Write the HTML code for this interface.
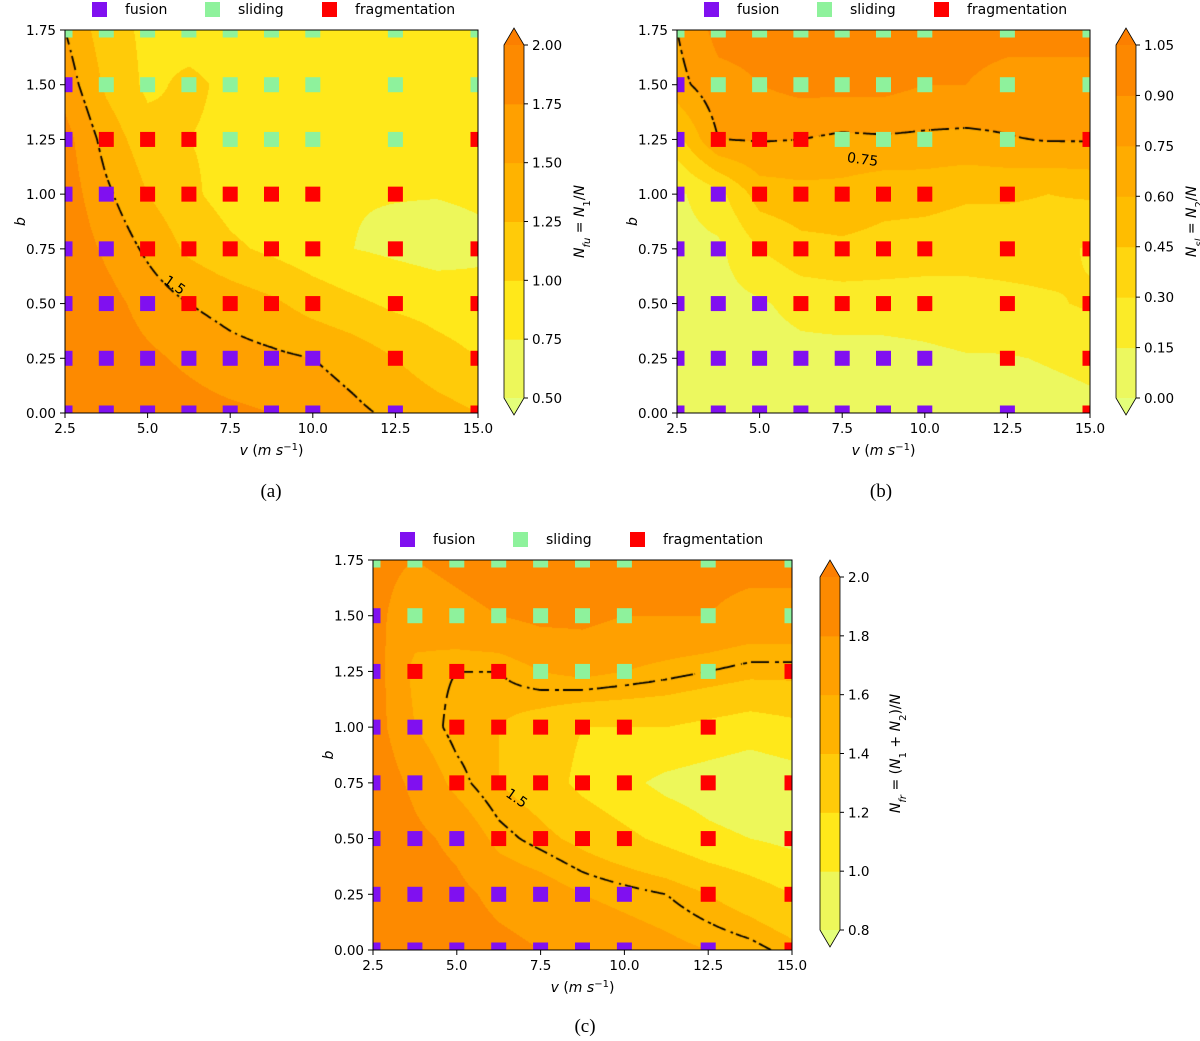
<!DOCTYPE html>
<html><head><meta charset="utf-8">
<style>
body{margin:0;background:#fff;width:1200px;height:1041px;position:relative;overflow:hidden;font-family:"DejaVu Sans","Liberation Sans",sans-serif;}
canvas{position:absolute;}
svg{position:absolute;left:0;top:0;}
</style></head>
<body>
<canvas id="cva"></canvas>
<canvas id="cvb"></canvas>
<canvas id="cvc"></canvas>
<svg id="svg" width="1200" height="1041"></svg>
<script>
// ---- data ----
const vGrid=[2.5,3.75,5,6.25,7.5,8.75,10,11.25,12.5,13.75,15];
const bGrid=[0,0.25,0.5,0.75,1.0,1.25,1.5,1.75];
// rows by b ascending (0 .. 1.75)
const fuValues=[
 [2.0,1.95,1.9,1.85,1.8,1.75,1.65,1.55,1.45,1.35,1.25],
 [2.0,1.9,1.8,1.7,1.6,1.55,1.5,1.4,1.25,1.1,1.0],
 [2.0,1.85,1.65,1.5,1.4,1.3,1.15,1.05,0.95,0.9,0.85],
 [1.95,1.7,1.45,1.2,1.05,0.95,0.85,0.75,0.7,0.65,0.7],
 [1.9,1.55,1.25,1.05,0.9,0.8,0.78,0.76,0.76,0.76,0.78],
 [1.85,1.4,1.1,1.0,0.95,0.9,0.85,0.85,0.8,0.8,0.8],
 [1.65,1.2,0.95,1.05,0.95,0.9,0.9,0.9,0.9,0.9,0.9],
 [1.5,1.1,0.95,0.9,0.9,0.9,0.9,0.9,0.9,0.9,0.9]];
const slValues=[
 [0.05,0.05,0.08,0.08,0.08,0.08,0.08,0.08,0.08,0.1,0.12],
 [0.05,0.05,0.08,0.1,0.1,0.1,0.12,0.14,0.14,0.16,0.18],
 [0.05,0.1,0.13,0.2,0.22,0.22,0.22,0.24,0.26,0.28,0.32],
 [0.1,0.12,0.3,0.4,0.42,0.4,0.38,0.36,0.36,0.36,0.28],
 [0.12,0.25,0.52,0.55,0.55,0.5,0.5,0.47,0.47,0.45,0.47],
 [0.4,0.75,0.76,0.75,0.72,0.73,0.72,0.71,0.74,0.76,0.76],
 [0.7,0.85,0.9,0.95,0.95,0.95,0.9,0.9,0.85,0.85,0.85],
 [0.75,0.95,0.95,1.0,1.0,0.95,0.95,0.95,0.95,0.95,0.95]];
const frValues=[
 [2.0,1.95,1.9,1.85,1.8,1.75,1.7,1.65,1.6,1.55,1.45],
 [2.0,1.9,1.85,1.75,1.7,1.6,1.55,1.5,1.4,1.3,1.2],
 [2.0,1.85,1.75,1.55,1.45,1.35,1.25,1.15,1.05,1.0,0.95],
 [1.95,1.75,1.55,1.4,1.3,1.15,1.05,0.95,0.9,0.85,0.9],
 [1.9,1.6,1.45,1.4,1.3,1.2,1.2,1.2,1.15,1.1,1.15],
 [1.9,1.55,1.5,1.5,1.6,1.65,1.6,1.55,1.5,1.45,1.45],
 [1.85,1.7,1.75,1.8,1.85,1.85,1.8,1.8,1.8,1.75,1.75],
 [1.85,1.8,1.85,1.9,1.9,1.9,1.9,1.85,1.85,1.85,1.85]];
const fuLevels=[0.5,0.75,1.0,1.25,1.5,1.75,2.0];
const slLevels=[0,0.15,0.3,0.45,0.6,0.75,0.9,1.05];
const frLevels=[0.8,1.0,1.2,1.4,1.6,1.8,2.0];
const fuTickLabels=["0.50","0.75","1.00","1.25","1.50","1.75","2.00"];
const slTickLabels=["0.00","0.15","0.30","0.45","0.60","0.75","0.90","1.05"];
const frTickLabels=["0.8","1.0","1.2","1.4","1.6","1.8","2.0"];
const markerV=[2.5,3.75,5,6.25,7.5,8.75,10,12.5,15];
const markerB=[0,0.25,0.5,0.75,1.0,1.25,1.5,1.75];
const markerTypes=[
 "FFFFFFFFR",
 "FFFFFFFRR",
 "FFFRRRRRR",
 "FFRRRRRRR",
 "FFRRRRRR-",
 "FRRRSSSSR",
 "FSSSSSSSS",
 "SSSSSSSSS"];
const xTicks=[2.5,5.0,7.5,10.0,12.5,15.0];
const xTickLabels=["2.5","5.0","7.5","10.0","12.5","15.0"];
const yTicks=[0,0.25,0.5,0.75,1.0,1.25,1.5,1.75];
const yTickLabels=["0.00","0.25","0.50","0.75","1.00","1.25","1.50","1.75"];

const NS="http://www.w3.org/2000/svg";
const svg=document.getElementById('svg');
function el(tag,attrs,parent){const e=document.createElementNS(NS,tag);for(const k in attrs)e.setAttribute(k,attrs[k]);(parent||svg).appendChild(e);return e;}
const stops=[[0,[228,255,122]],[0.25,[255,232,26]],[0.5,[255,189,0]],[0.75,[255,160,0]],[1,[252,127,0]]];
function cmap(t){t=Math.max(0,Math.min(1,t));for(let i=0;i<stops.length-1;i++){const a=stops[i],b=stops[i+1];if(t<=b[0]){const f=(t-a[0])/(b[0]-a[0]);return a[1].map((c,k)=>Math.round(c+(b[1][k]-c)*f));}}return stops[4][1];}
function rgb(c){return 'rgb('+c.join(',')+')';}
function interp(vals,v,b){
  let i=0;while(i<vGrid.length-2&&v>vGrid[i+1])i++;
  let j=0;while(j<bGrid.length-2&&b>bGrid[j+1])j++;
  const fx=Math.max(0,Math.min(1,(v-vGrid[i])/(vGrid[i+1]-vGrid[i])));
  const fy=Math.max(0,Math.min(1,(b-bGrid[j])/(bGrid[j+1]-bGrid[j])));
  const a=vals[j][i],bb=vals[j][i+1],c=vals[j+1][i],d=vals[j+1][i+1];
  return a*(1-fx)*(1-fy)+bb*fx*(1-fy)+c*(1-fx)*fy+d*fx*fy;
}
const MCOL={F:'#8010f0',S:'#8ef29c',R:'#ff0000'};

function panel(p){
  const {x0,y0,w,h,vals,levels,tickLabels,cvId,cb,lineLevel,lineLabel,labelPos,cbLabel,key}=p;
  const X=v=>x0+(v-2.5)/12.5*w, Y=b=>y0+h-b/1.75*h;
  const n=levels.length-1;
  const cols=[];for(let i=0;i<n;i++)cols.push(cmap((i+0.5)/n));
  const cv=document.getElementById(cvId);cv.width=w;cv.height=h;cv.style.left=x0+'px';cv.style.top=y0+'px';
  const ctx=cv.getContext('2d');const img=ctx.createImageData(w,h);
  const s=2;
  for(let py=0;py<h;py++){for(let px=0;px<w;px++){
    const v=2.5+(px+0.5)/w*12.5,b=1.75-(py+0.5)/h*1.75;const val=interp(vals,v,b);
    let k=Math.floor((val-levels[0])/(levels[1]-levels[0]));k=Math.max(0,Math.min(n-1,k));
    const c=cols[k],o=(py*w+px)*4;img.data[o]=c[0];img.data[o+1]=c[1];img.data[o+2]=c[2];img.data[o+3]=255;}}
  ctx.putImageData(img,0,0);
  // contour line (marching squares), dash-dot via position-based pattern
  ctx.strokeStyle='#000';ctx.lineWidth=1.8;ctx.beginPath();
  const f=(px,py)=>interp(vals,2.5+px/w*12.5,1.75-py/h*1.75)-lineLevel;
  for(let py=0;py<h;py+=s)for(let px=0;px<w;px+=s){
    const c=[[px,py],[px+s,py],[px+s,py+s],[px,py+s]];const vv=c.map(q=>f(q[0],q[1]));const pts=[];
    for(let e=0;e<4;e++){const a=vv[e],bv=vv[(e+1)%4];if((a<0)!==(bv<0)){const t=a/(a-bv);pts.push([c[e][0]+(c[(e+1)%4][0]-c[e][0])*t,c[e][1]+(c[(e+1)%4][1]-c[e][1])*t]);}}
    const ph=((px+py)/2)%16; const on=ph<9||(ph>=12&&ph<13.5);
    if(!on)continue;
    if(pts.length>=2){ctx.moveTo(pts[0][0],pts[0][1]);ctx.lineTo(pts[1][0],pts[1][1]);}
    if(pts.length===4){ctx.moveTo(pts[2][0],pts[2][1]);ctx.lineTo(pts[3][0],pts[3][1]);}
  }
  ctx.stroke();
  const g=el('g',{});
  const lt=el('text',{x:labelPos[0],y:labelPos[1],'font-size':14,fill:'#000','text-anchor':'middle',transform:'rotate('+labelPos[2]+' '+labelPos[0]+' '+labelPos[1]+')'},g);lt.textContent=lineLabel;
  
  const cid='clip'+key;const cp=el('clipPath',{id:cid},g);el('rect',{x:x0,y:y0,width:w,height:h},cp);
  const mg=el('g',{'clip-path':'url(#'+cid+')'},g);
  markerB.forEach((b,j)=>markerV.forEach((v,i)=>{const t=markerTypes[j][i];if(!MCOL[t])return;
    const r=el('rect',{x:X(v)-7.5,y:Y(b)-7.5,width:15,height:15,fill:MCOL[t]},mg);
    }));
  el('rect',{x:x0,y:y0,width:w,height:h,fill:'none',stroke:'#000','stroke-width':1},g);
  xTicks.forEach((v,i)=>{el('line',{x1:X(v),x2:X(v),y1:y0+h,y2:y0+h+5,stroke:'#000'},g);
    const t=el('text',{x:X(v),y:y0+h+20,'font-size':13.5,'text-anchor':'middle'},g);t.textContent=xTickLabels[i];
    });
  yTicks.forEach((b,i)=>{el('line',{x1:x0-5,x2:x0,y1:Y(b),y2:Y(b),stroke:'#000'},g);
    const t=el('text',{x:x0-9,y:Y(b)+5,'font-size':13.5,'text-anchor':'end'},g);t.textContent=yTickLabels[i];
    });
  const xt=el('text',{x:x0+w/2,y:y0+h+42,'font-size':14,'text-anchor':'middle'},g);
  xt.innerHTML='<tspan font-style="italic">v</tspan> (<tspan font-style="italic">m s</tspan><tspan baseline-shift="super" font-size="10">−1</tspan>)';
  
  const yt=el('text',{x:x0-40,y:y0+h/2,'font-size':14,'font-style':'italic','text-anchor':'middle',transform:'rotate(-90 '+(x0-40)+' '+(y0+h/2)+')'},g);yt.textContent='b';
  
  const ly=y0-21;const lx=[x0+27,x0+140,x0+257];const ln=['fusion','sliding','fragmentation'];const lc=['F','S','R'];
  for(let i=0;i<3;i++){const lg=el('g',{},g);
    el('rect',{x:lx[i],y:ly-7,width:15,height:15,fill:MCOL[lc[i]]},lg);
    const t=el('text',{x:lx[i]+33,y:ly+5,'font-size':14},lg);t.textContent=ln[i];}
  const cg=el('g',{},g);
  const bh=(cb.bot-cb.top)/n;
  for(let i=0;i<n;i++)el('rect',{x:cb.x,y:cb.bot-(i+1)*bh,width:cb.w,height:bh+0.5,fill:rgb(cols[i])},cg);
  el('polygon',{points:`${cb.x},${cb.top} ${cb.x+cb.w/2},${cb.top-17} ${cb.x+cb.w},${cb.top}`,fill:rgb(cmap(1))},cg);
  el('polygon',{points:`${cb.x},${cb.bot} ${cb.x+cb.w/2},${cb.bot+17} ${cb.x+cb.w},${cb.bot}`,fill:rgb(cmap(0))},cg);
  el('polygon',{points:`${cb.x},${cb.top} ${cb.x+cb.w/2},${cb.top-17} ${cb.x+cb.w},${cb.top} ${cb.x+cb.w},${cb.bot} ${cb.x+cb.w/2},${cb.bot+17} ${cb.x},${cb.bot}`,fill:'none',stroke:'#000','stroke-width':0.8},cg);
  levels.forEach((l,i)=>{const yy=cb.bot-i*bh;el('line',{x1:cb.x+cb.w,x2:cb.x+cb.w+4,y1:yy,y2:yy,stroke:'#000'},cg);
    const t=el('text',{x:cb.x+cb.w+8,y:yy+5,'font-size':13.5},cg);t.textContent=tickLabels[i];});
  const lx2=cb.x+cb.w+60,ly2=(cb.top+cb.bot)/2;
  const ct=el('text',{x:lx2,y:ly2,'font-size':14,'text-anchor':'middle',transform:'rotate(-90 '+lx2+' '+ly2+')'},cg);ct.innerHTML=cbLabel;
  
}
panel({key:'a',x0:65,y0:30,w:413,h:383,vals:fuValues,levels:fuLevels,tickLabels:fuTickLabels,cvId:'cva',
  cb:{x:504,w:20,top:45,bot:398},lineLevel:1.5,lineLabel:'1.5',labelPos:[172,289,35],
  cbLabel:'<tspan font-style="italic">N</tspan><tspan font-size="10" baseline-shift="sub" font-style="italic">fu</tspan> = <tspan font-style="italic">N</tspan><tspan font-size="10" baseline-shift="sub">1</tspan>/<tspan font-style="italic">N</tspan>'});
panel({key:'b',x0:677,y0:30,w:413,h:383,vals:slValues,levels:slLevels,tickLabels:slTickLabels,cvId:'cvb',
  cb:{x:1116,w:20,top:45,bot:398},lineLevel:0.75,lineLabel:'0.75',labelPos:[862,164,8],
  cbLabel:'<tspan font-style="italic">N</tspan><tspan font-size="10" baseline-shift="sub" font-style="italic">sl</tspan> = <tspan font-style="italic">N</tspan><tspan font-size="10" baseline-shift="sub">2</tspan>/<tspan font-style="italic">N</tspan>'});
panel({key:'c',x0:373,y0:560,w:419,h:390,vals:frValues,levels:frLevels,tickLabels:frTickLabels,cvId:'cvc',
  cb:{x:820,w:20,top:577,bot:930},lineLevel:1.5,lineLabel:'1.5',labelPos:[514,802,35],
  cbLabel:'<tspan font-style="italic">N</tspan><tspan font-size="10" baseline-shift="sub" font-style="italic">fr</tspan> = (<tspan font-style="italic">N</tspan><tspan font-size="10" baseline-shift="sub">1</tspan> + <tspan font-style="italic">N</tspan><tspan font-size="10" baseline-shift="sub">2</tspan>)/<tspan font-style="italic">N</tspan>'});
[['(a)',271,497],['(b)',881,497],['(c)',585,1032]].forEach(c=>{const t=el('text',{x:c[1],y:c[2],'font-size':19,'font-family':'Liberation Serif, serif','text-anchor':'middle'});t.textContent=c[0];
  });
</script>
</body></html>
